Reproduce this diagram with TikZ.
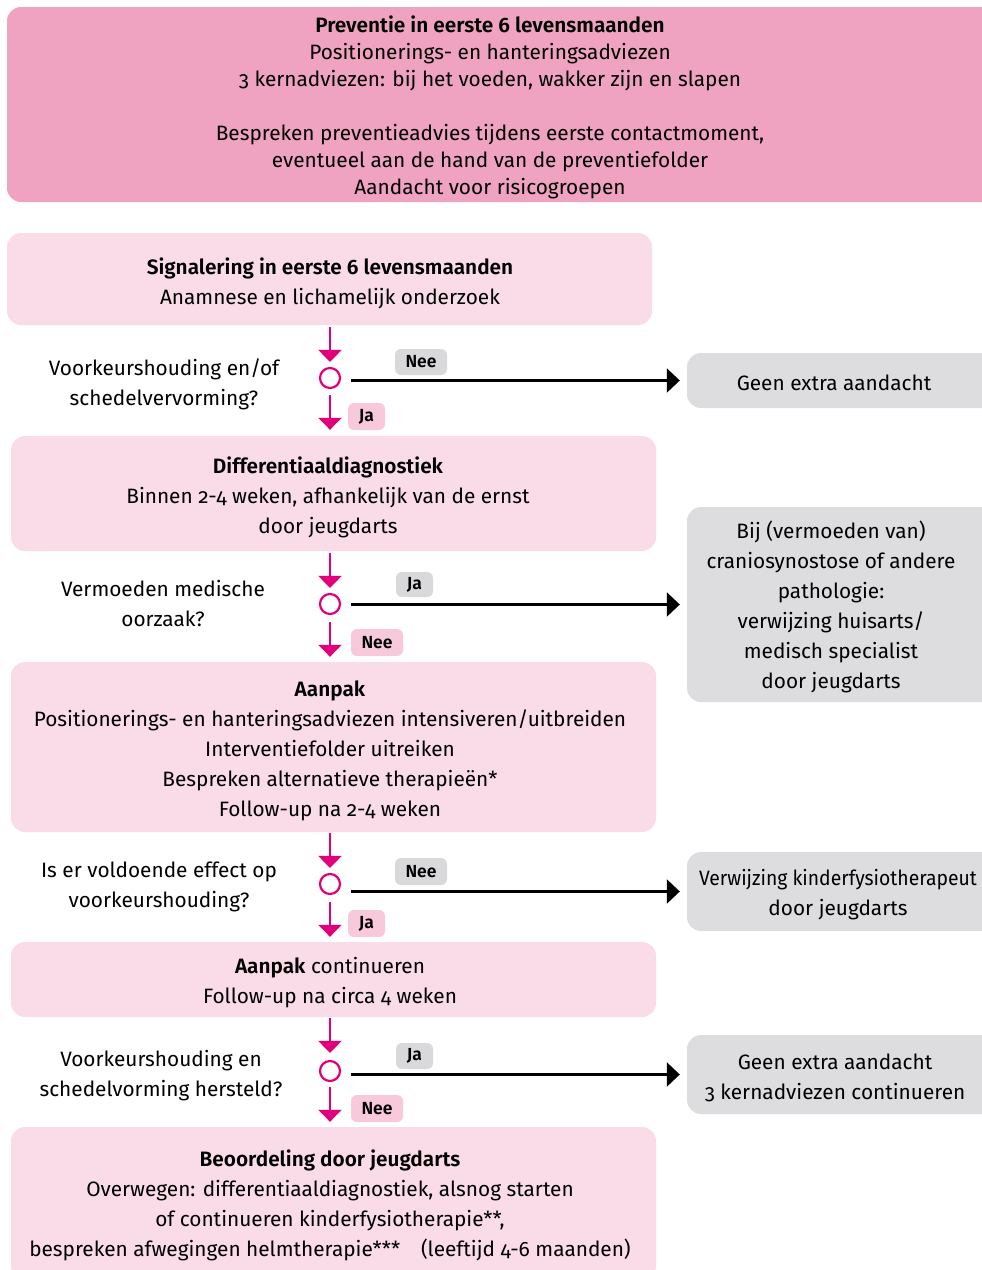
\documentclass[tikz,border=0pt]{standalone}
\usepackage{fontspec}
\setmainfont{Fira Sans}[Numbers=OldStyle, BoldFont={Fira Sans SemiBold}]
\usetikzlibrary{arrows.meta}
\definecolor{toppink}{HTML}{EFA3C0}
\definecolor{lightpink}{HTML}{F9DCE7}
\definecolor{greyfill}{HTML}{DDDDDF}
\definecolor{mag}{HTML}{E2007A}
\definecolor{lblpink}{HTML}{F7C9DA}
\definecolor{lblgrey}{HTML}{D9D9DB}
\tikzset{
  txt/.style={align=center, inner sep=0pt, font=\fontsize{20.8}{30}\selectfont},
  toptxt/.style={align=center, inner sep=0pt, font=\fontsize{20.8}{27}\selectfont},
  topbox/.style={fill=toppink, rounded corners=14pt, inner sep=0pt},
  pinkbox/.style={fill=lightpink, rounded corners=14pt, inner sep=0pt, minimum width=645pt},
  greybox/.style={fill=greyfill, rounded corners=14pt, inner sep=0pt, minimum width=313pt},
  decision/.style={circle, draw=mag, line width=2.2pt, fill=white, minimum size=20pt, inner sep=0pt},
  flowarrow/.style={draw=mag, line width=2.4pt, -{Triangle[length=12pt,width=23pt]}},
  sidearrow/.style={draw=black, line width=2.4pt, -{Triangle[length=13pt,width=24pt]}},
  lblpinkbox/.style={fill=lblpink, rounded corners=6pt, inner sep=0pt, font=\bfseries\fontsize{17.5}{17.5}\selectfont},
  lblgreybox/.style={fill=lblgrey, rounded corners=6pt, inner sep=0pt, font=\bfseries\fontsize{17.5}{17.5}\selectfont},
}
\begin{document}
\begin{tikzpicture}[x=1pt,y=-1pt]
\useasboundingbox (0,0) rectangle (982,1270);
\begin{scope}
\clip (0,0) rectangle (982,1270);
% top box
\node[topbox, minimum width=995pt, minimum height=195pt] (prev) at (504.5,104.5) {};
\node[toptxt] (prevtxt) at (490,107) {\textbf{Preventie in eerste 6 levensmaanden}\\
Positionerings- en hanteringsadviezen\\
3 kernadviezen: bij het voeden, wakker zijn en slapen\\[27pt]
Bespreken preventieadvies tijdens eerste contactmoment,\\
eventueel aan de hand van de preventiefolder\\
Aandacht voor risicogroepen};

% pink boxes
\node[pinkbox, minimum height=92pt] (sig) at (329.5,279) {};
\node[txt] (sigtxt) at (330,283) {\textbf{Signalering in eerste 6 levensmaanden}\\Anamnese en lichamelijk onderzoek};
\node[pinkbox, minimum height=115pt] (diff) at (333.5,493.5) {};
\node[txt] (difftxt) at (328,497) {\textbf{Differentiaaldiagnostiek}\\Binnen 2-4 weken, afhankelijk van de ernst\\door jeugdarts};
\node[pinkbox, minimum height=170pt] (aanpak) at (333.5,747) {};
\node[txt] (aanpaktxt) at (330,751) {\textbf{Aanpak}\\Positionerings- en hanteringsadviezen intensiveren/uitbreiden\\Interventiefolder uitreiken\\Bespreken alternatieve therapieën*\\Follow-up na 2-4 weken};
\node[pinkbox, minimum height=75pt] (cont) at (333.5,979.5) {};
\node[txt] (conttxt) at (330,983) {\textbf{Aanpak} continueren\\Follow-up na circa 4 weken};
\node[pinkbox, minimum height=153pt] (beoord) at (333.5,1203.5) {};
\node[txt] (beoordtxt) at (330,1205.5) {\textbf{Beoordeling door jeugdarts}\\Overwegen: differentiaaldiagnostiek, alsnog starten\\of continueren kinderfysiotherapie**,\\bespreken afwegingen helmtherapie***\quad(leeftijd 4-6 maanden)};

% grey boxes
\node[greybox, minimum height=55pt] (g1) at (843.5,380.5) {};
\node[txt] (g1txt) at (834,382.5) {Geen extra aandacht};
\node[greybox, minimum height=195pt] (g2) at (843.5,604.5) {};
\node[txt] (g2txt) at (831,607) {Bij (vermoeden van)\\craniosynostose of andere\\pathologie:\\verwijzing huisarts/\\medisch specialist\\door jeugdarts};
\node[greybox, minimum height=79pt] (g3) at (843.5,891.5) {};
\node[txt] (g3txt) at (838,895) {\scalebox{0.93}[1]{Verwijzing kinderfysiotherapeut}\\door jeugdarts};
\node[greybox, minimum height=79pt] (g4) at (843.5,1074.5) {};
\node[txt] (g4txt) at (835,1078) {Geen extra aandacht\\3 kernadviezen continueren};

% questions
\node[txt] (q1) at (164,384) {Voorkeurshouding en/of\\schedelvervorming?};
\node[txt] (q2) at (163,603.5) {Vermoeden medische\\oorzaak?};
\node[txt] (q3) at (159,887) {Is er voldoende effect op\\voorkeurshouding?};
\node[txt] (q4) at (161,1076) {Voorkeurshouding en\\schedelvorming hersteld?};

% decisions
\node[decision] (c1) at (330,378) {};
\node[decision] (c2) at (330,604) {};
\node[decision] (c3) at (330,884) {};
\node[decision] (c4) at (330,1071) {};

% flow arrows
\draw[flowarrow, shorten <=2pt, shorten >=5pt] (c1 |- sig.south) -- (c1.north);
\draw[flowarrow, shorten <=6pt, shorten >=6pt] (c1.south) -- (c1 |- diff.north);
\draw[flowarrow, shorten <=2pt, shorten >=5pt] (c2 |- diff.south) -- (c2.north);
\draw[flowarrow, shorten <=7pt, shorten >=5pt] (c2.south) -- (c2 |- aanpak.north);
\draw[flowarrow, shorten <=1pt, shorten >=5pt] (c3 |- aanpak.south) -- (c3.north);
\draw[flowarrow, shorten <=7pt, shorten >=5pt] (c3.south) -- (c3 |- cont.north);
\draw[flowarrow, shorten <=1pt, shorten >=7pt] (c4 |- cont.south) -- (c4.north);
\draw[flowarrow, shorten <=5pt, shorten >=5pt] (c4.south) -- (c4 |- beoord.north);

% side arrows
\draw[sidearrow, shorten <=10pt, shorten >=7pt] (c1.east |- g1.west) -- (g1.west);
\draw[sidearrow, shorten <=10pt, shorten >=7pt] (c2.east |- g2.west) -- (g2.west);
\draw[sidearrow, shorten <=10pt, shorten >=7pt] (c3.east |- g3.west) -- (g3.west);
\draw[sidearrow, shorten <=10pt, shorten >=7pt] (c4.east |- g4.west) -- (g4.west);

% labels
\node[lblgreybox, minimum width=52pt, minimum height=26pt] (l1n) at (421,362) {Nee};
\node[lblpinkbox, minimum width=37pt, minimum height=27pt] (l1j) at (366.5,416.5) {Ja};
\node[lblgreybox, minimum width=37pt, minimum height=25pt] (l2j) at (414.5,584.5) {Ja};
\node[lblpinkbox, minimum width=52pt, minimum height=27pt] (l2n) at (377,642.5) {Nee};
\node[lblgreybox, minimum width=52pt, minimum height=27pt] (l3n) at (421,871.5) {Nee};
\node[lblpinkbox, minimum width=37pt, minimum height=27pt] (l3j) at (366.5,923.5) {Ja};
\node[lblgreybox, minimum width=37pt, minimum height=26pt] (l4j) at (414.5,1056) {Ja};
\node[lblpinkbox, minimum width=52pt, minimum height=27pt] (l4n) at (377,1108.5) {Nee};
\end{scope}
\end{tikzpicture}
\end{document}
